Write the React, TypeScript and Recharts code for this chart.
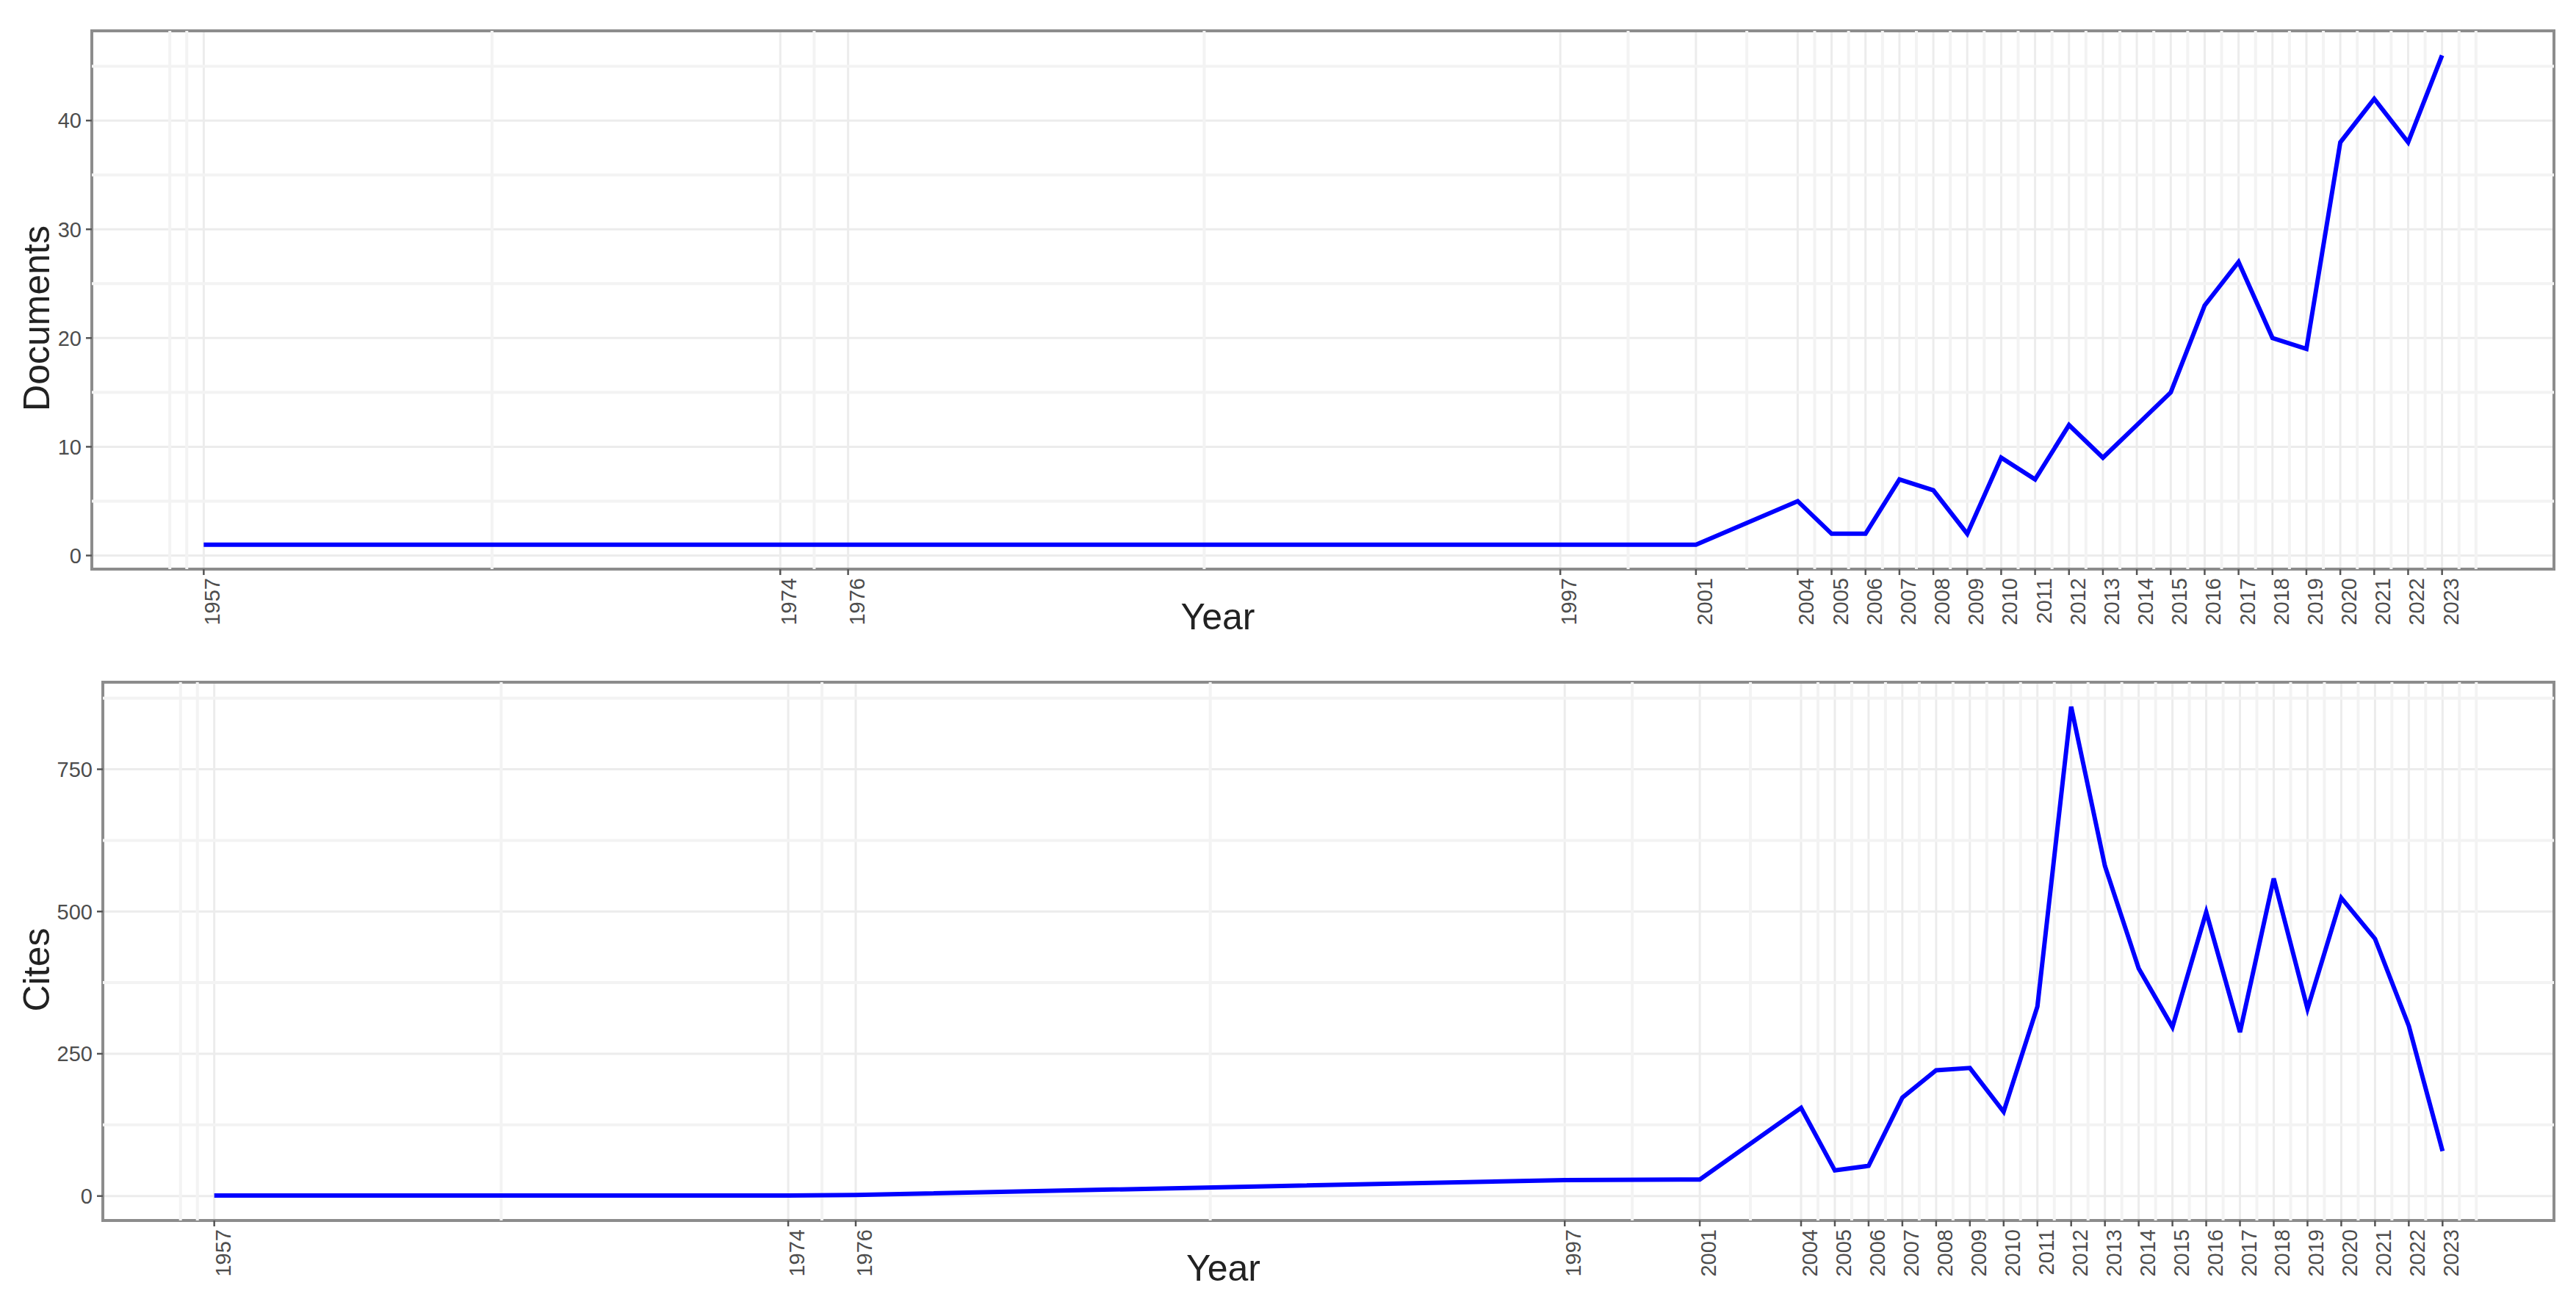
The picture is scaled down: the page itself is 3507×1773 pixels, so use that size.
import { CartesianGrid, Line, LineChart, ReferenceArea, ReferenceLine, XAxis, YAxis } from "recharts";

// publication years that have records (also the x-axis breaks)
const years = [
  1957, 1974, 1976, 1997, 2001, 2004, 2005, 2006, 2007, 2008, 2009, 2010, 2011,
  2012, 2013, 2014, 2015, 2016, 2017, 2018, 2019, 2020, 2021, 2022, 2023,
];

const documents = [1, 1, 1, 1, 1, 5, 2, 2, 7, 6, 2, 9, 7, 12, 9, 12, 15, 23, 27, 20, 19, 38, 42, 38, 46];

const cites = [
  1, 1, 2, 28, 29, 155, 45, 53, 173, 221, 225, 148, 333, 860, 580, 400, 297, 499,
  288, 558, 329, 524, 452, 299, 79,
];

const docTicks = [0, 10, 20, 30, 40];
const docMinor = [5, 15, 25, 35, 45];
const citeTicks = [0, 250, 500, 750];
const citeMinor = [125, 375, 625, 875];

// ggplot-style minor breaks on the year axis
const yearMinor = [
  1956, 1956.5, 1965.5, 1975, 1986.5, 1999, 2002.5, 2004.5, 2005.5, 2006.5, 2007.5,
  2008.5, 2009.5, 2010.5, 2011.5, 2012.5, 2013.5, 2014.5, 2015.5, 2016.5, 2017.5,
  2018.5, 2019.5, 2020.5, 2021.5, 2022.5, 2023.5, 2024,
];

const X_DOMAIN: [number, number] = [1953.7, 2026.3];
const DOC_DOMAIN: [number, number] = [-1.25, 48.25];
const CITE_DOMAIN: [number, number] = [-43, 903];

const data = years.map((year, i) => ({ year, documents: documents[i], cites: cites[i] }));

const FONT = "'Liberation Sans', Arial, sans-serif";
const TICK_FILL = "#4d4d4d";
const BORDER = "#8c8c8c";

function YearTick({ x, y, payload }: any) {
  return (
    <text
      x={x}
      y={y}
      dy={22}
      transform={`rotate(-90 ${x} ${y})`}
      textAnchor="end"
      fontSize={29}
      fill={TICK_FILL}
    >
      {payload.value}
    </text>
  );
}

function AxisTitle({ viewBox, text, shift }: any) {
  const cx = viewBox.x + 67;
  const cy = viewBox.y + viewBox.height / 2 + shift;
  return (
    <text
      x={cx}
      y={cy}
      transform={`rotate(-90 ${cx} ${cy})`}
      textAnchor="middle"
      fontSize={50}
      fill="#222"
    >
      {text}
    </text>
  );
}

function Panel({
  dataKey,
  title,
  domain,
  ticks,
  minor,
  yWidth,
  top,
  height,
  marginTop,
  marginBottom,
}: {
  dataKey: string;
  title: string;
  domain: [number, number];
  ticks: number[];
  minor: number[];
  yWidth: number;
  top: number;
  height: number;
  marginTop: number;
  marginBottom: number;
}) {
  return (
    <div style={{ position: "absolute", left: 0, top }}>
      <LineChart
        width={3507}
        height={height}
        data={data}
        margin={{ top: marginTop, right: 30, bottom: marginBottom, left: 0 }}
      >
        <CartesianGrid stroke="#ececec" strokeWidth={3} />
        {yearMinor.map((v) => (
          <ReferenceLine key={`vx${v}`} x={v} stroke="#f3f3f3" strokeWidth={4} />
        ))}
        {minor.map((v) => (
          <ReferenceLine key={`hy${v}`} y={v} stroke="#f3f3f3" strokeWidth={4} />
        ))}
        <XAxis
          type="number"
          dataKey="year"
          domain={X_DOMAIN}
          ticks={years}
          interval={0}
          allowDataOverflow
          axisLine={false}
          tickSize={8}
          tickMargin={4}
          tickLine={{ stroke: "#555", strokeWidth: 2.5 }}
          tick={<YearTick />}
          height={100}
          label={{
            value: "Year",
            position: "insideTop",
            offset: 46,
            dx: -143,
            fontSize: 50,
            fill: "#222",
          }}
        />
        <YAxis
          domain={domain}
          ticks={ticks}
          allowDataOverflow
          axisLine={false}
          width={yWidth}
          tickSize={8}
          tickMargin={6}
          tickLine={{ stroke: "#555", strokeWidth: 2.5 }}
          tick={{ fontSize: 29, fill: TICK_FILL }}
          label={<AxisTitle text={title} shift={25} />}
        />
        <Line
          type="linear"
          dataKey={dataKey}
          stroke="#0000ff"
          strokeWidth={6}
          dot={false}
          activeDot={false}
          isAnimationActive={false}
        />
        <ReferenceArea
          x1={X_DOMAIN[0]}
          x2={X_DOMAIN[1]}
          y1={domain[0]}
          y2={domain[1]}
          fill="none"
          fillOpacity={0}
          stroke={BORDER}
          strokeWidth={4}
          ifOverflow="visible"
        />
      </LineChart>
    </div>
  );
}

export default function App() {
  return (
    <div
      style={{
        position: "absolute",
        left: 0,
        top: 0,
        width: 3507,
        height: 1773,
        background: "#fff",
        fontFamily: FONT,
        overflow: "hidden",
      }}
    >
      <Panel
        dataKey="documents"
        title="Documents"
        domain={DOC_DOMAIN}
        ticks={docTicks}
        minor={docMinor}
        yWidth={125}
        top={0}
        height={880}
        marginTop={42}
        marginBottom={5}
      />
      <Panel
        dataKey="cites"
        title="Cites"
        domain={CITE_DOMAIN}
        ticks={citeTicks}
        minor={citeMinor}
        yWidth={140}
        top={880}
        height={893}
        marginTop={49}
        marginBottom={11}
      />
    </div>
  );
}
